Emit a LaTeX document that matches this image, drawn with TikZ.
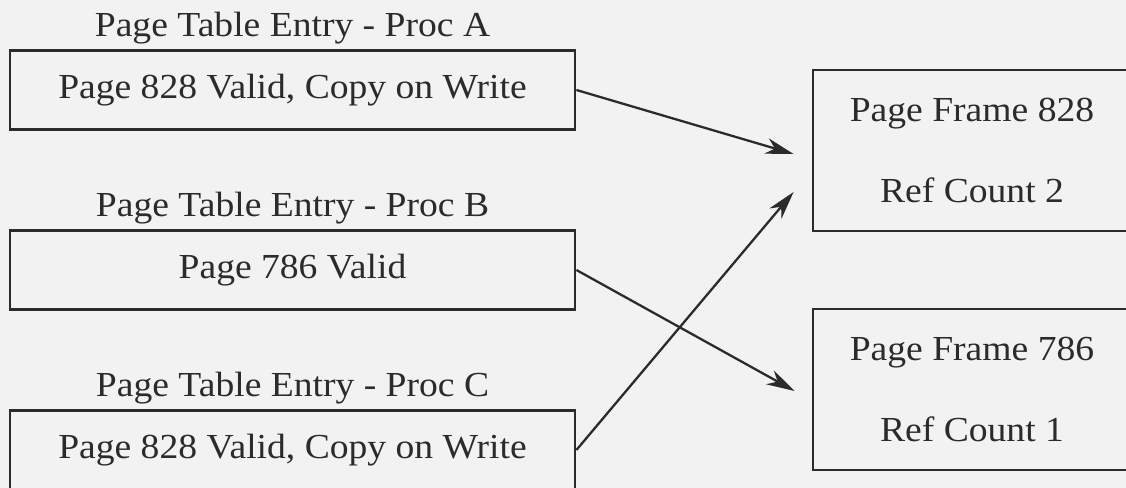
\documentclass[tikz,border=0pt]{standalone}
\usepackage{fontspec}
\setmainfont{Liberation Serif}[FakeStretch=1.07]
\usetikzlibrary{calc, positioning}
\usetikzlibrary{arrows.meta}

\definecolor{ink}{gray}{0.17}
\definecolor{paper}{gray}{0.95}

\begin{document}
\begin{tikzpicture}[
  pte/.style={draw=ink, line width=0.8pt, minimum width=5.65cm, minimum height=0.79cm, inner sep=0pt, text=ink},
  pageframe/.style={draw=ink, line width=0.8pt, minimum width=3.18cm, minimum height=1.61cm, align=center, inner sep=0pt, text=ink},
  ptelabel/.style={inner sep=0pt, text=ink},
  ptr/.style={draw=ink, line width=0.65pt, -{Stealth[length=8pt, width=4.5pt, inset=2.5pt]}}
]
\def\W{11.26}
\def\H{4.88}

\useasboundingbox (0,0) rectangle (\W,-\H);
\fill[paper] (0,0) rectangle (\W,-\H);
\clip (0,0) rectangle (\W,-\H);

% page table entries
\node[pte] (pteA) at (2.925,-0.90) {Page 828 Valid, Copy on Write};
\node[pte] (pteB) at (2.925,-2.70) {Page 786 Valid};
\node[pte] (pteC) at (2.925,-4.50) {Page 828 Valid, Copy on Write};

\node[ptelabel, above=0.4mm of pteA] (lblA) {Page Table Entry - Proc A};
\node[ptelabel, above=0.4mm of pteB] (lblB) {Page Table Entry - Proc B};
\node[ptelabel, above=0.4mm of pteC] (lblC) {Page Table Entry - Proc C};

% page frames
\node[pageframe] (pf828) at (9.72,-1.505) {Page Frame 828\\[11pt]Ref Count 2};
\node[pageframe] (pf786) at (9.72,-3.895) {Page Frame 786\\[11pt]Ref Count 1};

\coordinate (inA) at ($(pf828.west)+(-0.18,-0.035)$);
\coordinate (inC) at ($(pf828.west)+(-0.18,-0.415)$);
\coordinate (inB) at ($(pf786.west)+(-0.17,-0.015)$);

\draw[ptr] (pteA.east) -- (inA);
\draw[ptr] (pteB.east) -- (inB);
\draw[ptr] (pteC.east) -- (inC);
\end{tikzpicture}
\end{document}
